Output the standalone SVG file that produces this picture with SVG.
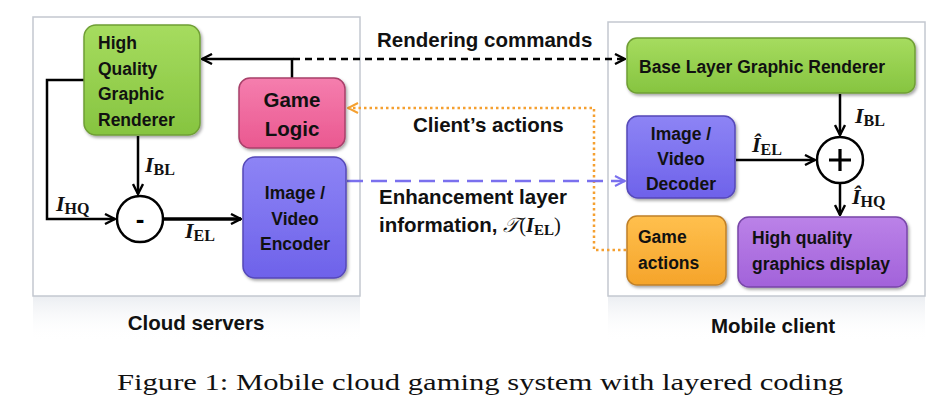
<svg xmlns="http://www.w3.org/2000/svg" width="944" height="405" viewBox="0 0 944 405">
<defs>
<style>
.lbl{font-family:"Liberation Sans",Arial,sans-serif;font-weight:bold;font-size:17.5px;fill:#111}
.big{font-family:"Liberation Sans",Arial,sans-serif;font-weight:bold;font-size:20.5px;fill:#111}
.m{font-family:"Liberation Serif","DejaVu Serif",serif;font-weight:bold;font-style:italic;font-size:22px;fill:#111}
.sub{font-family:"Liberation Serif","DejaVu Serif",serif;font-weight:bold;font-style:normal;font-size:16px}
.cap{font-family:"Liberation Serif","DejaVu Serif",serif;font-size:23px;fill:#111}
.panel{fill:#fff;stroke:#c3c8d0;stroke-width:1.5}
.ln{fill:none;stroke:#000;stroke-width:2.5}
</style>
<linearGradient id="gG" x1="0" y1="0" x2="0" y2="1"><stop offset="0" stop-color="#a6dc5f"/><stop offset="1" stop-color="#86c440"/></linearGradient>
<linearGradient id="gP" x1="0" y1="0" x2="0" y2="1"><stop offset="0" stop-color="#f57eae"/><stop offset="1" stop-color="#ea5890"/></linearGradient>
<linearGradient id="gB" x1="0" y1="0" x2="0" y2="1"><stop offset="0" stop-color="#8d84f5"/><stop offset="1" stop-color="#6e62ea"/></linearGradient>
<linearGradient id="gO" x1="0" y1="0" x2="0" y2="1"><stop offset="0" stop-color="#ffc04e"/><stop offset="1" stop-color="#f5a42a"/></linearGradient>
<linearGradient id="gV" x1="0" y1="0" x2="0" y2="1"><stop offset="0" stop-color="#bb82e8"/><stop offset="1" stop-color="#a262da"/></linearGradient>
<linearGradient id="refl" x1="0" y1="0" x2="0" y2="1"><stop offset="0" stop-color="#e6e9ee" stop-opacity="0.8"/><stop offset="1" stop-color="#ffffff" stop-opacity="0"/></linearGradient>
<filter id="sh" x="-10%" y="-10%" width="125%" height="130%"><feDropShadow dx="1.5" dy="2" stdDeviation="1.5" flood-color="#000" flood-opacity="0.35"/></filter>
<marker id="ah" viewBox="0 0 12 12" refX="11" refY="6" markerWidth="12" markerHeight="12" markerUnits="userSpaceOnUse" orient="auto"><path d="M1,1 L11,6 L1,11" fill="none" stroke="#000" stroke-width="2.4"/></marker>
<marker id="ahB" viewBox="0 0 12 12" refX="11" refY="6" markerWidth="12" markerHeight="12" markerUnits="userSpaceOnUse" orient="auto"><path d="M1,1 L11,6 L1,11" fill="none" stroke="#7a70ee" stroke-width="2"/></marker>
<marker id="ahO" viewBox="0 0 12 12" refX="11" refY="6" markerWidth="12" markerHeight="12" markerUnits="userSpaceOnUse" orient="auto"><path d="M1,1 L11,6 L1,11" fill="none" stroke="#f5a030" stroke-width="2"/></marker>
</defs>

<rect width="944" height="405" fill="#fff"/>

<g id="panels">
<rect x="33" y="296" width="327" height="45" fill="url(#refl)"/>
<rect x="608" y="296" width="317" height="45" fill="url(#refl)"/>
<rect class="panel" x="33" y="17" width="327" height="279"/>
<rect class="panel" x="608" y="22" width="317" height="274"/>
</g>

<g id="connectors">
<path class="ln" d="M292,78 V59 H202" marker-end="url(#ah)"/>
<path d="M293,59 H625" fill="none" stroke="#000" stroke-width="2.5" stroke-dasharray="7,5" marker-end="url(#ah)"/>
<path class="ln" d="M84,80 H47 V219 H115" marker-end="url(#ah)"/>
<path class="ln" d="M138,136 V194" marker-end="url(#ah)"/>
<path d="M163,219 H241" fill="none" stroke="#000" stroke-width="3.5" marker-end="url(#ah)"/>
<path d="M626,250 H594 V108 H348" fill="none" stroke="#f5a030" stroke-width="2.5" stroke-dasharray="2.5,3" marker-end="url(#ahO)"/>
<path d="M347,181 H625" fill="none" stroke="#7a70ee" stroke-width="2.5" stroke-dasharray="16,8" marker-end="url(#ahB)"/>
<path class="ln" d="M840,94 V135" marker-end="url(#ah)"/>
<path class="ln" d="M736,160 H815" marker-end="url(#ah)"/>
<path class="ln" d="M840,183 V215" marker-end="url(#ah)"/>
</g>

<g id="hq_renderer">
<rect x="84" y="25" width="116" height="110" rx="12" fill="url(#gG)" stroke="#6f9e35" stroke-width="1.5" filter="url(#sh)"/>
<text class="lbl" x="98" y="49">High</text>
<text class="lbl" x="98" y="75">Quality</text>
<text class="lbl" x="98" y="100">Graphic</text>
<text class="lbl" x="98" y="126">Renderer</text>
</g>

<g id="game_logic">
<rect x="239" y="78" width="106" height="70" rx="11" fill="url(#gP)" stroke="#a8406a" stroke-width="1.5" filter="url(#sh)"/>
<text class="big" x="292" y="107" text-anchor="middle">Game</text>
<text class="big" x="292" y="136" text-anchor="middle">Logic</text>
</g>

<g id="encoder">
<rect x="243" y="157" width="103" height="121" rx="12" fill="url(#gB)" stroke="#5548b8" stroke-width="1.5" filter="url(#sh)"/>
<text class="lbl" x="295" y="199" text-anchor="middle">Image /</text>
<text class="lbl" x="295" y="225" text-anchor="middle">Video</text>
<text class="lbl" x="295" y="250" text-anchor="middle">Encoder</text>
</g>

<g id="minus">
<circle cx="140" cy="219" r="23" fill="#fff" stroke="#000" stroke-width="2.5"/>
<text x="140" y="228" text-anchor="middle" style="font-family:'Liberation Sans',Arial,sans-serif;font-weight:bold;font-size:26px">-</text>
</g>

<g id="server_labels">
<text class="m" x="145" y="172">I<tspan class="sub" dy="3">BL</tspan></text>
<text class="m" x="56" y="211">I<tspan class="sub" dy="3">HQ</tspan></text>
<text class="m" x="185" y="238">I<tspan class="sub" dy="3">EL</tspan></text>
</g>

<g id="link_labels">
<text class="big" x="377" y="47">Rendering commands</text>
<text class="big" x="413" y="132">Client’s actions</text>
<text class="big" x="379" y="204">Enhancement layer</text>
<text class="big" x="379" y="232">information, <tspan style="font-family:'DejaVu Serif',serif;font-style:italic;font-weight:normal">𝒯</tspan><tspan style="font-family:'Liberation Serif',serif;font-weight:normal">(</tspan><tspan style="font-family:'Liberation Serif',serif;font-style:italic">I</tspan><tspan style="font-family:'Liberation Serif',serif;font-size:15px" dy="3">EL</tspan><tspan style="font-family:'Liberation Serif',serif;font-weight:normal" dy="-3">)</tspan></text>
</g>

<g id="base_renderer">
<rect x="627" y="38" width="288" height="55" rx="10" fill="url(#gG)" stroke="#6f9e35" stroke-width="1.5" filter="url(#sh)"/>
<text class="lbl" x="639" y="73">Base Layer Graphic Renderer</text>
</g>

<g id="decoder">
<rect x="627" y="116" width="108" height="82" rx="11" fill="url(#gB)" stroke="#5548b8" stroke-width="1.5" filter="url(#sh)"/>
<text class="lbl" x="681" y="140" text-anchor="middle">Image /</text>
<text class="lbl" x="681" y="165" text-anchor="middle">Video</text>
<text class="lbl" x="681" y="190" text-anchor="middle">Decoder</text>
</g>

<g id="plus">
<circle cx="840" cy="160" r="23" fill="#fff" stroke="#000" stroke-width="2.5"/>
<path d="M829,160 H851 M840,149 V171" stroke="#000" stroke-width="3.2"/>
</g>

<g id="game_actions">
<rect x="627" y="216" width="99" height="69" rx="10" fill="url(#gO)" stroke="#c08028" stroke-width="1.5" filter="url(#sh)"/>
<text class="lbl" x="638" y="243">Game</text>
<text class="lbl" x="638" y="269">actions</text>
</g>

<g id="display">
<rect x="738" y="217" width="169" height="70" rx="11" fill="url(#gV)" stroke="#7846a8" stroke-width="1.5" filter="url(#sh)"/>
<text class="lbl" x="752" y="244">High quality</text>
<text class="lbl" x="752" y="270">graphics display</text>
</g>

<g id="client_labels">
<text class="m" x="855" y="123">I<tspan class="sub" dy="3">BL</tspan></text>
<text class="m" x="752" y="152">Î<tspan class="sub" dy="3">EL</tspan></text>
<text class="m" x="852" y="204">Î<tspan class="sub" dy="3">HQ</tspan></text>
</g>

<text class="big" x="196" y="330" text-anchor="middle">Cloud servers</text>
<text class="big" x="773" y="333" text-anchor="middle">Mobile client</text>
<text class="cap" x="117" y="390" textLength="726" lengthAdjust="spacingAndGlyphs">Figure 1: Mobile cloud gaming system with layered coding</text>
</svg>
